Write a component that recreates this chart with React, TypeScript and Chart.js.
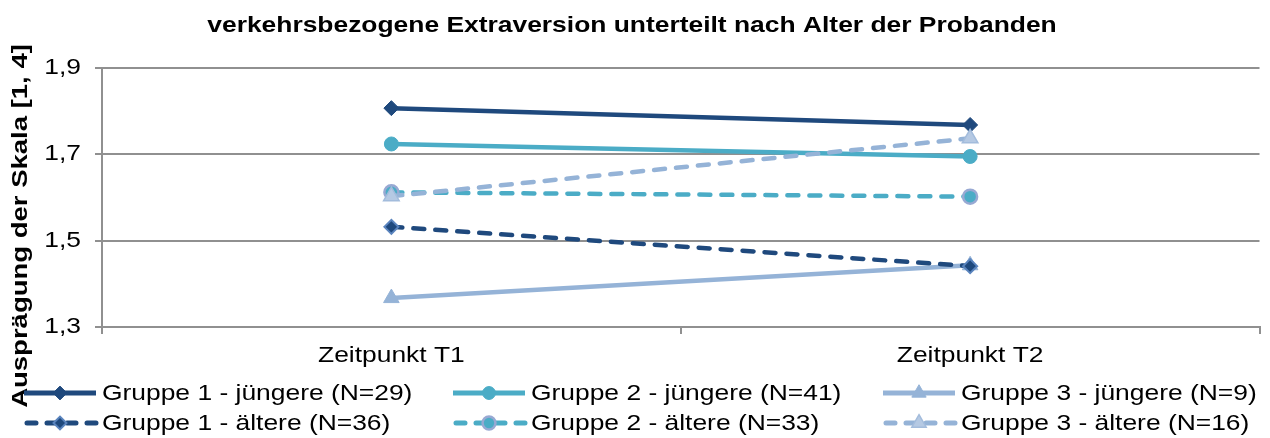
import React, { useEffect, useRef } from 'react';
import { Chart, registerables } from 'chart.js';
import { drawPoint } from 'chart.js/helpers';

Chart.register(...registerables);

// ---- Chart content ----
const chartTitle = 'verkehrsbezogene Extraversion unterteilt nach Alter der Probanden';
const yAxisTitle = 'Ausprägung der Skala [1, 4]';
const categories = ['Zeitpunkt T1', 'Zeitpunkt T2'];
const yTicks = [1.3, 1.5, 1.7, 1.9];

const seriesLabels = [
  'Gruppe 1 - jüngere (N=29)',
  'Gruppe 2 - jüngere (N=41)',
  'Gruppe 3 - jüngere (N=9)',
  'Gruppe 1 - ältere (N=36)',
  'Gruppe 2 - ältere (N=33)',
  'Gruppe 3 - ältere (N=16)',
];

const gruppe1Juengere = [1.807, 1.768];
const gruppe2Juengere = [1.724, 1.695];
const gruppe3Juengere = [1.367, 1.443];
const gruppe1Aeltere = [1.532, 1.441];
const gruppe2Aeltere = [1.612, 1.602];
const gruppe3Aeltere = [1.603, 1.737];

// ---- Styling ----
const FONT = '"Liberation Sans", Arial, sans-serif';
const TEXT_SCALE = 1.2;
const GRID_COLOR = '#909090';
const DARK_BLUE = '#1F497D';
const TEAL = '#4BACC6';
const LIGHT_BLUE = '#95B3D7';

type SeriesStyle = {
  data: number[];
  color: string;
  dashed: boolean;
  pointStyle: string;
  radius: number;
  pointFill: string;
  pointBorder: string;
  pointBorderWidth: number;
};

const seriesStyles: SeriesStyle[] = [
  { data: gruppe1Juengere, color: DARK_BLUE, dashed: false, pointStyle: 'rectRot', radius: 7.5, pointFill: DARK_BLUE, pointBorder: DARK_BLUE, pointBorderWidth: 1 },
  { data: gruppe2Juengere, color: TEAL, dashed: false, pointStyle: 'circle', radius: 7, pointFill: TEAL, pointBorder: TEAL, pointBorderWidth: 1 },
  { data: gruppe3Juengere, color: LIGHT_BLUE, dashed: false, pointStyle: 'triangle', radius: 9, pointFill: LIGHT_BLUE, pointBorder: LIGHT_BLUE, pointBorderWidth: 1 },
  { data: gruppe1Aeltere, color: DARK_BLUE, dashed: true, pointStyle: 'rectRot', radius: 7, pointFill: DARK_BLUE, pointBorder: '#5A84BE', pointBorderWidth: 2 },
  { data: gruppe2Aeltere, color: TEAL, dashed: true, pointStyle: 'circle', radius: 7, pointFill: TEAL, pointBorder: '#98A9D3', pointBorderWidth: 2.5 },
  { data: gruppe3Aeltere, color: LIGHT_BLUE, dashed: true, pointStyle: 'triangle', radius: 9, pointFill: '#B5C9E3', pointBorder: '#A3BCDC', pointBorderWidth: 1.5 },
];

const LINE_WIDTH = 4.5;
const DASH = [11, 11];

// Draws text stretched along its writing direction.
function wideText(
  ctx: CanvasRenderingContext2D,
  text: string,
  x: number,
  y: number,
  font: string,
  align: 'left' | 'center' | 'right',
  baseline: CanvasTextBaseline,
  sx: number = TEXT_SCALE
) {
  ctx.save();
  ctx.font = font;
  ctx.textAlign = 'left';
  ctx.textBaseline = baseline;
  const w = ctx.measureText(text).width * sx;
  const left = align === 'center' ? x - w / 2 : align === 'right' ? x - w : x;
  ctx.translate(left, y);
  ctx.scale(sx, 1);
  ctx.fillStyle = '#000';
  ctx.fillText(text, 0, 0);
  ctx.restore();
}

const textLayer = {
  id: 'textLayer',
  afterDraw(chart: any) {
    const ctx: CanvasRenderingContext2D = chart.ctx;
    const xScale = chart.scales.x;
    const yScale = chart.scales.y;

    // Title
    wideText(ctx, chartTitle, 632, 32, `bold 22px ${FONT}`, 'center', 'alphabetic');

    // Y axis title, rotated
    ctx.save();
    ctx.translate(21, 226);
    ctx.rotate(-Math.PI / 2);
    wideText(ctx, yAxisTitle, 0, 0, `bold 22px ${FONT}`, 'center', 'middle', 1.25);
    ctx.restore();

    // Y tick labels
    yScale.ticks.forEach((t: any) => {
      const label = t.value.toFixed(1).replace('.', ',');
      wideText(ctx, label, 81, yScale.getPixelForValue(t.value), `22px ${FONT}`, 'right', 'middle');
    });

    // Category labels
    categories.forEach((c, i) => {
      wideText(ctx, c, xScale.getPixelForTick(i), 362, `22px ${FONT}`, 'center', 'alphabetic');
    });

    // Legend: three columns, two rows
    const colX = [24, 453, 883];
    const rowY = [393, 423];
    seriesStyles.forEach((s, i) => {
      const x0 = colX[i % 3];
      const y = rowY[Math.floor(i / 3)];
      ctx.save();
      ctx.strokeStyle = s.color;
      ctx.lineWidth = 5;
      ctx.lineCap = s.dashed ? 'round' : 'butt';
      ctx.setLineDash(s.dashed ? [9, 11] : []);
      ctx.lineDashOffset = s.dashed ? -3 : 0;
      ctx.beginPath();
      ctx.moveTo(x0, y);
      ctx.lineTo(x0 + 72, y);
      ctx.stroke();
      ctx.setLineDash([]);
      ctx.fillStyle = s.pointFill;
      ctx.strokeStyle = s.pointBorder;
      ctx.lineWidth = s.pointBorderWidth;
      drawPoint(ctx, { pointStyle: s.pointStyle as any, radius: s.radius * 0.92, rotation: 0, borderWidth: s.pointBorderWidth }, x0 + 36, y);
      ctx.restore();
      wideText(ctx, seriesLabels[i], x0 + 78, y + 7, `22px ${FONT}`, 'left', 'alphabetic');
    });
  },
};

export default function App() {
  const canvasRef = useRef<HTMLCanvasElement | null>(null);

  useEffect(() => {
    const canvas = canvasRef.current;
    if (!canvas) return;

    const datasets = seriesStyles.map((s, i) => ({
      label: seriesLabels[i],
      data: s.data,
      borderColor: s.color,
      backgroundColor: s.color,
      borderWidth: LINE_WIDTH,
      borderDash: s.dashed ? DASH : [],
      borderCapStyle: s.dashed ? 'round' : 'butt',
      tension: 0,
      fill: false,
      pointStyle: s.pointStyle,
      pointRadius: s.radius,
      pointBackgroundColor: s.pointFill,
      pointBorderColor: s.pointBorder,
      pointBorderWidth: s.pointBorderWidth,
      // later series sit on top
      order: seriesStyles.length - i,
    }));

    const chart = new Chart(canvas, {
      type: 'line',
      data: { labels: categories, datasets: datasets as any },
      options: {
        animation: false,
        responsive: false,
        devicePixelRatio: 1,
        events: [],
        layout: { padding: { top: 68, bottom: 71, left: 0, right: 8 } },
        plugins: {
          legend: { display: false },
          title: { display: false },
          tooltip: { enabled: false },
        },
        scales: {
          x: {
            type: 'category',
            offset: true,
            grid: {
              offset: true,
              drawOnChartArea: false,
              drawTicks: true,
              tickLength: 7,
              color: GRID_COLOR,
              lineWidth: 2,
            },
            border: { color: GRID_COLOR, width: 2 },
            ticks: { display: false },
            afterFit: (s: any) => {
              s.height = 40;
            },
          },
          y: {
            type: 'linear',
            min: yTicks[0],
            max: yTicks[yTicks.length - 1],
            grid: { color: GRID_COLOR, lineWidth: 2, tickLength: 7, drawTicks: true },
            border: { color: GRID_COLOR, width: 2 },
            ticks: { display: false },
            afterBuildTicks: (s: any) => {
              s.ticks = yTicks.map((v) => ({ value: v }));
            },
            afterFit: (s: any) => {
              s.width = 102;
            },
          },
        },
      },
      plugins: [textLayer],
    });

    return () => chart.destroy();
  }, []);

  return (
    <div style={{ position: 'fixed', left: 0, top: 0, width: 1270, height: 438, background: '#fff' }}>
      <canvas ref={canvasRef} width={1270} height={438} style={{ display: 'block' }} />
    </div>
  );
}
